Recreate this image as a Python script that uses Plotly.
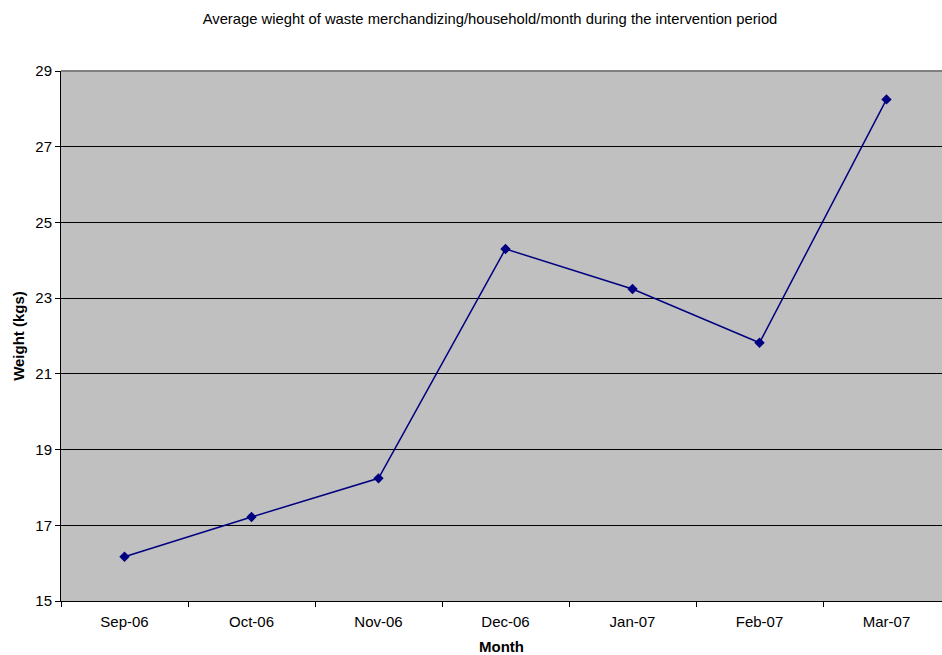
import plotly.graph_objects as go

months = ["Sep-06", "Oct-06", "Nov-06", "Dec-06", "Jan-07", "Feb-07", "Mar-07"]
weights = [16.17, 17.22, 18.24, 24.30, 23.24, 21.82, 28.25]
y_ticks = [15, 17, 19, 21, 23, 25, 27, 29]

FONT = "Liberation Sans, Arial, sans-serif"

fig = go.Figure()
fig.add_trace(go.Scatter(
    x=months, y=weights, mode="lines+markers",
    line=dict(color="#000080", width=1.5),
    marker=dict(symbol="diamond", size=8, color="#000080"),
    showlegend=False,
))

fig.update_layout(
    width=942, height=655,
    margin=dict(l=61, r=0, t=71, b=54),
    paper_bgcolor="white",
    plot_bgcolor="#c0c0c0",
    font=dict(family=FONT, size=15, color="black"),
    title=dict(
        text="Average wieght of waste merchandizing/household/month during the intervention period",
        x=490 / 942, xref="container", xanchor="center",
        y=1 - 19 / 655, yref="container", yanchor="middle",
        font=dict(family=FONT, size=14.8, color="black"),
    ),
    xaxis=dict(
        type="category",
        range=[-0.5, -0.5 + 881 / 127],
        tickson="boundaries",
        ticks="outside", ticklen=5, tickcolor="black",
        ticklabelstandoff=7,
        showgrid=False,
        showline=True, linecolor="black", linewidth=1,
        tickfont=dict(family=FONT, size=15),
        title=dict(text="<b>Month</b>", font=dict(family=FONT, size=15), standoff=13),
    ),
    yaxis=dict(
        range=[15, 29],
        tickvals=y_ticks,
        ticks="outside", ticklen=5, tickcolor="black",
        showgrid=True, gridcolor="black", gridwidth=1,
        showline=True, linecolor="black", linewidth=1,
        zeroline=False,
        tickfont=dict(family=FONT, size=15),
        title=dict(text="<b>Weight (kgs)</b>", font=dict(family=FONT, size=15), standoff=7),
    ),
    shapes=[dict(
        type="line", xref="paper", yref="paper",
        x0=0, x1=1, y0=1, y1=1,
        line=dict(color="#808080", width=2),
    )],
)

fig.write_html("out.html")
